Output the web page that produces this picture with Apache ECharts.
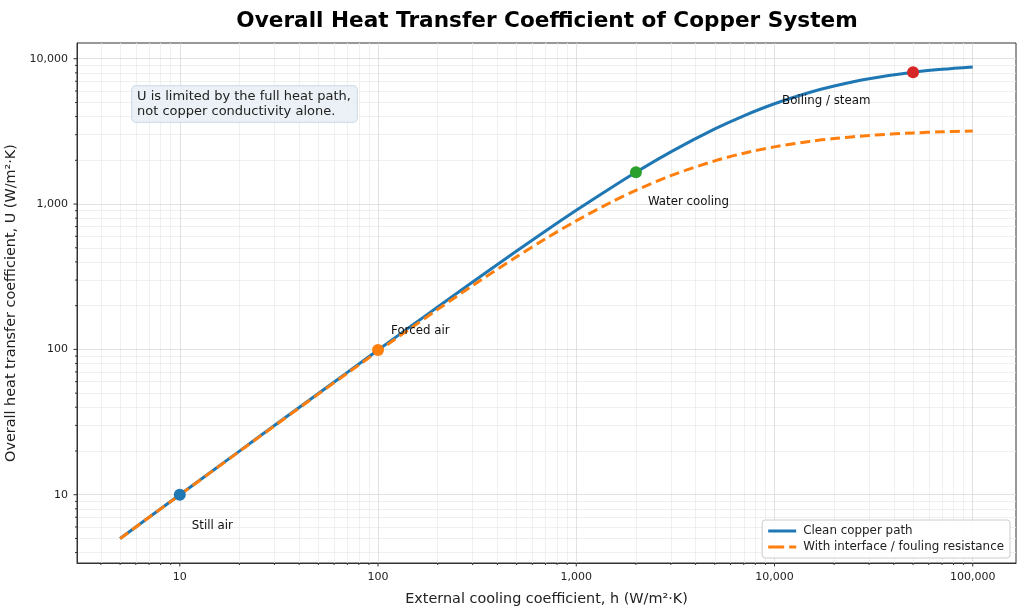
<!DOCTYPE html>
<html>
<head>
<meta charset="utf-8">
<script src="https://cdn.jsdelivr.net/npm/echarts@6/dist/echarts.min.js"></script>
<style>
  html, body { margin: 0; padding: 0; background: #fff; }
  #chart { width: 1024px; height: 611px; }
</style>
</head>
<body>
<div id="chart"></div>
<script>
// external cooling coefficient h (W/m2K)
const hValues = [5, 7, 10, 15, 20, 30, 50, 70, 100, 150, 200, 300, 500, 700, 1000,
  1500, 2000, 3000, 5000, 7000, 10000, 15000, 20000, 30000, 50000, 70000, 100000];
// overall U, clean copper path
const uClean = [5.0, 7.0, 9.99, 14.98, 19.96, 29.91, 49.74, 69.49, 98.97, 147.7, 195.9, 290.8, 475.3, 652.5, 906,
  1296, 1656, 2287, 3289, 4051, 4902, 5859, 6494, 7282, 8065, 8454, 8772];
// overall U, with interface / fouling resistance
const uFouled = [4.99, 6.99, 9.97, 14.93, 19.88, 29.73, 49.25, 68.54, 97.06, 143.4, 188.5, 275, 434, 577, 767,
  1030, 1244, 1569, 1984, 2238, 2475, 2698, 2825, 2964, 3086, 3142, 3185];

// highlighted regimes
const regimeNames = ["Still air", "Forced air", "Water cooling", "Boiling / steam"];
const regimeH = [10, 100, 2000, 50000];
const regimeU = [10, 99, 1656, 8065];

const seriesNames = ["Clean copper path", "With interface / fouling resistance"];
const xMajorTicks = [10, 100, 1000, 10000, 100000];
const yMajorTicks = [10, 100, 1000, 10000];

const regimeColors = ["#1f77b4", "#ff7f0e", "#2ca02c", "#d62728"];
const labelOffsets = [[12, 31], [13, -19], [12, 30], [-131, 29]];

const xMin = 3.03, xMax = 165300;
const yMin = 3.39, yMax = 12830;

// minor tick values (2..9 x 10^n) inside the axis range
function minorValues(lo, hi) {
  const out = [];
  for (let d = -1; d <= 6; d++) {
    for (let k = 2; k <= 9; k++) {
      const v = k * Math.pow(10, d);
      if (v > lo && v < hi) out.push(v);
    }
  }
  return out;
}
const xMinorTicks = minorValues(xMin, xMax);
const yMinorTicks = minorValues(yMin, yMax);

const fmt = (v) => {
  const l = Math.log10(v);
  if (Math.abs(l - Math.round(l)) > 1e-6) return "";
  return Math.round(v).toLocaleString("en-US");
};

const myChart = echarts.init(document.getElementById("chart"));

const minorLines = [];
xMinorTicks.forEach((v) => minorLines.push({ xAxis: v }));
yMinorTicks.forEach((v) => minorLines.push({ yAxis: v }));
const majorLines = [];
xMajorTicks.forEach((v) => majorLines.push({ xAxis: v }));
yMajorTicks.forEach((v) => majorLines.push({ yAxis: v }));

const gridLine = (name, lines, color) => ({
  name,
  type: "line",
  data: [],
  z: 0,
  silent: true,
  markLine: {
    z: 0,
    silent: true,
    symbol: "none",
    label: { show: false },
    emphasis: { disabled: true },
    animation: false,
    lineStyle: { color, width: 0.8, type: "solid" },
    data: lines,
  },
});

// tick marks: [x, y, direction(0 = x axis, 1 = y axis), length]
const tickData = [];
xMajorTicks.forEach((v) => tickData.push([v, yMin, 0, 3.5]));
xMinorTicks.forEach((v) => tickData.push([v, yMin, 0, 2]));
yMajorTicks.forEach((v) => tickData.push([xMin, v, 1, 3.5]));
yMinorTicks.forEach((v) => tickData.push([xMin, v, 1, 2]));

const option = {
  animation: false,
  textStyle: { fontFamily: "DejaVu Sans" },
  title: {
    text: "Overall Heat Transfer Coefficient of Copper System",
    left: 542,
    top: 5,
    textAlign: "center",
    textStyle: { fontSize: 21.6, fontWeight: "bold", color: "#000", fontFamily: "DejaVu Sans" },
  },
  grid: {
    left: 77,
    right: 8,
    top: 43,
    bottom: 48,
    containLabel: false,
    outerBoundsMode: "none",
    show: true,
    borderColor: "#333",
    borderWidth: 1,
    backgroundColor: "transparent",
  },
  legend: {
    data: [
      { name: seriesNames[0], icon: "rect" },
      { name: seriesNames[1], icon: "path://M0,0h16v3h-16z M21,0h7v3h-7z" },
    ],
    orient: "vertical",
    right: 14,
    bottom: 53,
    itemWidth: 28,
    itemHeight: 3,
    itemGap: 4,
    padding: [5, 6, 5, 6],
    backgroundColor: "rgba(255,255,255,0.85)",
    borderColor: "#ccc",
    borderWidth: 1,
    borderRadius: 3,
    textStyle: { fontSize: 11.9, color: "#222", fontFamily: "DejaVu Sans", padding: [0, 0, 0, 2] },
  },
  xAxis: {
    type: "log",
    logBase: 10,
    min: xMin,
    max: xMax,
    name: "External cooling coefficient, h (W/m²·K)",
    nameLocation: "middle",
    nameGap: 29,
    nameTextStyle: { fontSize: 14.4, color: "#222" },
    axisLine: { show: true, onZero: false, lineStyle: { color: "#333" } },
    axisTick: { show: false },
    axisLabel: { fontSize: 11, color: "#222", margin: 9, formatter: fmt },
    splitLine: { show: false },
  },
  yAxis: {
    type: "log",
    logBase: 10,
    min: yMin,
    max: yMax,
    name: "Overall heat transfer coefficient, U (W/m²·K)",
    nameLocation: "middle",
    nameGap: 52,
    nameTextStyle: { fontSize: 14.4, color: "#222" },
    axisLine: { show: true, onZero: false, lineStyle: { color: "#333" } },
    axisTick: { show: false },
    axisLabel: { fontSize: 11, color: "#222", margin: 9, formatter: fmt },
    splitLine: { show: false },
  },
  graphic: [
    {
      type: "text",
      left: 131,
      top: 85,
      z: 10,
      style: {
        text: "U is limited by the full heat path,\nnot copper conductivity alone.",
        font: "13px DejaVu Sans",
        fill: "#222",
        lineHeight: 15,
        backgroundColor: "rgba(232,238,245,0.85)",
        borderColor: "#d6dee8",
        borderWidth: 1,
        borderRadius: 4,
        padding: [3, 6, 3, 5],
      },
    },
  ],
  series: [
    gridLine("gridMinor", minorLines, "#ececec"),
    gridLine("gridMajor", majorLines, "#d9d9d9"),
    {
      name: "ticks",
      type: "custom",
      silent: true,
      clip: false,
      z: 1,
      encode: { x: 0, y: 1 },
      data: tickData,
      renderItem: (params, api) => {
        const p = api.coord([api.value(0), api.value(1)]);
        const len = api.value(3);
        const horizontal = api.value(2) === 1;
        return {
          type: "line",
          shape: horizontal
            ? { x1: p[0], y1: p[1], x2: p[0] - len, y2: p[1] }
            : { x1: p[0], y1: p[1], x2: p[0], y2: p[1] + len },
          style: { stroke: "#333", lineWidth: 1 },
        };
      },
    },
    {
      name: seriesNames[0],
      type: "line",
      data: hValues.map((h, i) => [h, uClean[i]]),
      smooth: 0.3,
      showSymbol: false,
      symbol: "none",
      z: 2,
      color: "#1f77b4",
      lineStyle: { width: 3, color: "#1f77b4" },
    },
    {
      name: seriesNames[1],
      type: "line",
      data: hValues.map((h, i) => [h, uFouled[i]]),
      smooth: 0.3,
      showSymbol: false,
      symbol: "none",
      z: 3,
      color: "#ff7f0e",
      lineStyle: { width: 3, color: "#ff7f0e", type: [10, 5] },
    },
    {
      name: "regimes",
      type: "scatter",
      z: 5,
      symbolSize: 12,
      itemStyle: { opacity: 1 },
      data: regimeH.map((h, i) => ({
        value: [h, regimeU[i]],
        itemStyle: { color: regimeColors[i], opacity: 1 },
        label: {
          show: true,
          formatter: regimeNames[i],
          position: "inside",
          offset: labelOffsets[i],
          align: "left",
          verticalAlign: "middle",
          color: "#111",
          fontSize: 11.8,
          fontFamily: "DejaVu Sans",
        },
      })),
    },
  ],
};

myChart.setOption(option);
</script>
</body>
</html>
